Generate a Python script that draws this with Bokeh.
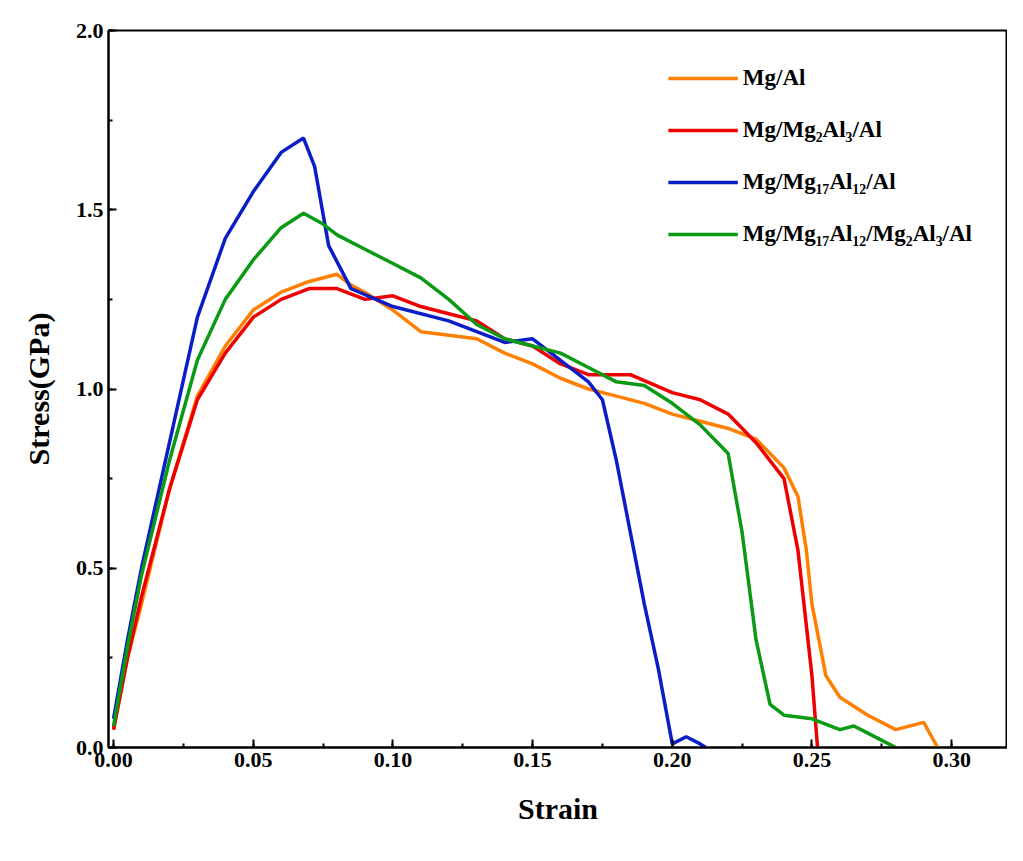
from bokeh.plotting import figure
from bokeh.models import Range1d, Legend, LegendItem, SingleIntervalTicker, NumeralTickFormatter
from bokeh.embed import file_html
from bokeh.resources import INLINE

labels = ["Mg/Al", "Mg/Mg₂Al₃/Al", "Mg/Mg₁₇Al₁₂/Al", "Mg/Mg₁₇Al₁₂/Mg₂Al₃/Al"]
colors = ["#FF8000", "#EE0000", "#0A1EC8", "#0A9A14"]

mgal_x = [0,0.005,0.01,0.02,0.03,0.04,0.05,0.06,0.07,0.08,0.085,0.09,0.10,0.11,0.12,0.13,0.14,0.15,0.16,0.17,0.18,0.19,0.20,0.21,0.22,0.23,0.24,0.245,0.248,0.25,0.255,0.26,0.27,0.28,0.29,0.295]
mgal_y = [0.05,0.25,0.4,0.72,0.98,1.12,1.22,1.27,1.3,1.32,1.29,1.27,1.22,1.16,1.15,1.14,1.1,1.07,1.03,1.0,0.98,0.96,0.93,0.91,0.89,0.86,0.78,0.7,0.55,0.4,0.2,0.14,0.09,0.05,0.07,0.0]

m2_x = [0,0.005,0.01,0.02,0.03,0.04,0.05,0.06,0.07,0.08,0.09,0.10,0.11,0.12,0.13,0.14,0.15,0.16,0.17,0.185,0.20,0.21,0.22,0.23,0.24,0.245,0.25,0.252]
m2_y = [0.05,0.25,0.42,0.72,0.97,1.1,1.2,1.25,1.28,1.28,1.25,1.26,1.23,1.21,1.19,1.14,1.12,1.07,1.04,1.04,0.99,0.97,0.93,0.85,0.75,0.55,0.2,0.0]

m17_x = [0,0.005,0.01,0.02,0.03,0.04,0.05,0.06,0.068,0.072,0.077,0.085,0.10,0.12,0.14,0.15,0.16,0.17,0.175,0.18,0.19,0.195,0.20,0.205,0.21,0.212]
m17_y = [0.08,0.3,0.5,0.85,1.2,1.42,1.55,1.66,1.7,1.62,1.4,1.28,1.23,1.19,1.13,1.14,1.08,1.02,0.97,0.8,0.4,0.22,0.01,0.03,0.01,0.0]

m4_x = [0,0.005,0.01,0.02,0.03,0.04,0.05,0.06,0.068,0.075,0.08,0.09,0.10,0.11,0.12,0.13,0.14,0.15,0.16,0.17,0.18,0.19,0.20,0.21,0.22,0.225,0.23,0.235,0.24,0.25,0.26,0.265,0.27,0.28]
m4_y = [0.06,0.28,0.48,0.8,1.08,1.25,1.36,1.45,1.49,1.46,1.43,1.39,1.35,1.31,1.25,1.18,1.14,1.12,1.1,1.06,1.02,1.01,0.96,0.9,0.82,0.6,0.3,0.12,0.09,0.08,0.05,0.06,0.04,0.0]

p = figure(width=1007, height=845, output_backend="svg", toolbar_location=None,
           x_range=Range1d(-0.0018, 0.32), y_range=Range1d(0, 2.0),
           min_border_left=108, min_border_right=0, min_border_top=30, min_border_bottom=98)
p.grid.visible = False
p.outline_line_color = "black"
p.outline_line_width = 2

series = [(mgal_x, mgal_y), (m2_x, m2_y), (m17_x, m17_y), (m4_x, m4_y)]
items = []
for (xs, ys), c, lab in zip(series, colors, labels):
    r = p.line(xs, ys, line_color=c, line_width=3.5)
    items.append(LegendItem(label=lab, renderers=[r]))

leg = Legend(items=items, location="top_right", border_line_alpha=0, background_fill_alpha=0,
             label_text_font="Liberation Serif", label_text_font_style="bold",
             label_text_font_size="23px", label_text_color="black",
             glyph_width=70, spacing=26, margin=25)
p.add_layout(leg)

p.xaxis.ticker = SingleIntervalTicker(interval=0.05, num_minor_ticks=2)
p.yaxis.ticker = SingleIntervalTicker(interval=0.5, num_minor_ticks=2)
p.xaxis.formatter = NumeralTickFormatter(format="0.00")
p.yaxis.formatter = NumeralTickFormatter(format="0.0")
for ax in (p.xaxis, p.yaxis):
    ax.major_tick_in = 8
    ax.major_tick_out = 0
    ax.minor_tick_in = 4
    ax.minor_tick_out = 0
    ax.axis_line_width = 2
    ax.major_tick_line_width = 2
    ax.minor_tick_line_width = 2
    ax.major_label_text_font = "Liberation Serif"
    ax.major_label_text_font_style = "bold"
    ax.major_label_text_font_size = "22px"
    ax.major_label_text_color = "black"
    ax.axis_label_text_font = "Liberation Serif"
    ax.axis_label_text_font_style = "bold"
    ax.axis_label_text_font_size = "30px"
    ax.axis_label_text_color = "black"
p.xaxis.axis_label = "Strain"
p.yaxis.axis_label = "Stress(GPa)"
p.xaxis.axis_label_standoff = 22
p.yaxis.axis_label_standoff = 18

open("out.html", "w").write(file_html(p, INLINE))
